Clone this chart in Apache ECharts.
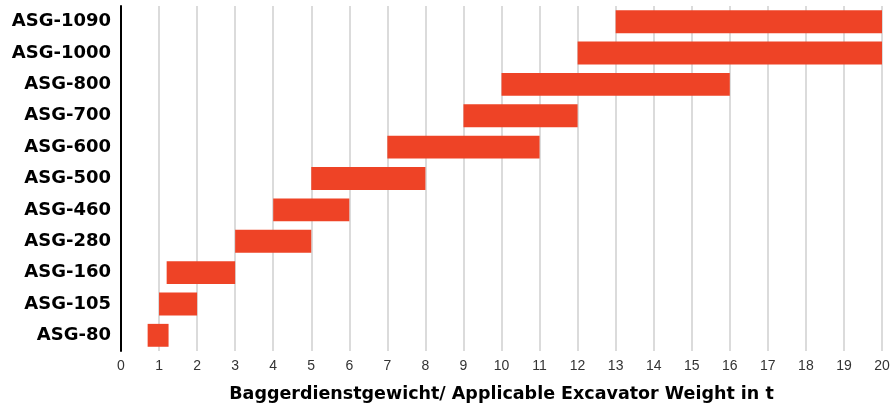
<!DOCTYPE html>
<html>
<head>
<meta charset="utf-8">
<script src="https://cdn.jsdelivr.net/npm/echarts@6/dist/echarts.min.js"></script>
<style>
  html, body { margin: 0; padding: 0; background: #fff; }
  #chart { width: 892px; height: 404px; }
</style>
</head>
<body>
<div id="chart"></div>
<script>
// bottom to top, as the category axis draws them
const models = ['ASG-80', 'ASG-105', 'ASG-160', 'ASG-280', 'ASG-460', 'ASG-500', 'ASG-600', 'ASG-700', 'ASG-800', 'ASG-1000', 'ASG-1090']
const weightFrom = [0.7, 1, 1.2, 3, 4, 5, 7, 9, 10, 12, 13]
const weightTo = [1.25, 2, 3, 5, 6, 8, 11, 12, 16, 20, 20]

const chart = echarts.init(document.getElementById('chart'))

const option = {
  backgroundColor: '#fff',
  animation: false,
  grid: { left: 121, right: 10, top: 6, bottom: 53, outerBoundsMode: 'none' },
  xAxis: {
    type: 'value',
    min: 0,
    max: 20,
    interval: 1,
    name: 'Baggerdienstgewicht/ Applicable Excavator Weight in t',
    nameLocation: 'middle',
    nameGap: 34,
    nameTextStyle: {
      color: '#000',
      fontFamily: 'DejaVu Sans, sans-serif',
      fontWeight: 'bold',
      fontSize: 17.5,
    },
    axisLine: { show: false },
    axisTick: { show: false },
    axisLabel: {
      color: '#333',
      fontFamily: 'Liberation Sans, Arial, sans-serif',
      fontSize: 14,
      margin: 8,
    },
    splitLine: { show: true, lineStyle: { color: '#cfcfcf', width: 1.5 } },
  },
  yAxis: {
    type: 'category',
    data: models,
    axisLine: { show: true, lineStyle: { color: '#000', width: 2 } },
    axisTick: { show: false },
    axisLabel: {
      color: '#000',
      fontFamily: 'DejaVu Sans, sans-serif',
      fontWeight: 'bold',
      fontSize: 18,
      margin: 10,
    },
    splitLine: { show: false },
  },
  series: [
    {
      name: 'base',
      type: 'bar',
      stack: 'range',
      barWidth: '73%',
      itemStyle: { color: 'transparent' },
      silent: true,
      data: weightFrom,
    },
    {
      name: 'range',
      type: 'bar',
      stack: 'range',
      barWidth: '73%',
      itemStyle: { color: '#ee4326' },
      data: weightTo.map((v, i) => +(v - weightFrom[i]).toFixed(2)),
    },
  ],
}

chart.setOption(option)
</script>
</body>
</html>
